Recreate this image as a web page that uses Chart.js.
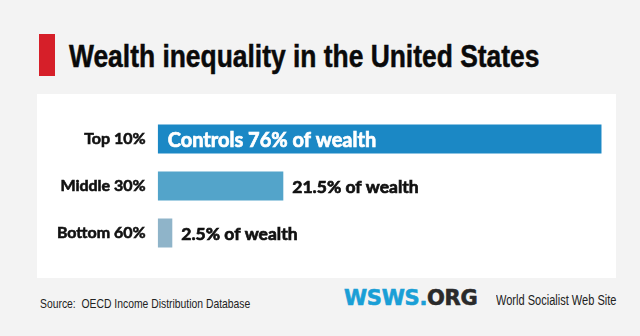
<!DOCTYPE html>
<html>
<head>
<meta charset="utf-8">
<script src="https://cdn.jsdelivr.net/npm/chart.js@4.4.1/dist/chart.umd.min.js"></script>
<style>
  html, body { margin: 0; padding: 0; }
  body { width: 640px; height: 336px; background: #f3f3f3; position: relative; overflow: hidden; }
  .mark { position: absolute; left: 39px; top: 34px; width: 16px; height: 42px; background: #d61f29; }
  .narrow { transform-origin: 0 0; white-space: nowrap; }
  .title { position: absolute; left: 69px; top: 40px; font: bold 32px/32px "Liberation Sans", sans-serif; color: #0a0a0a; transform: scaleX(0.825); -webkit-text-stroke: 0.5px #0a0a0a; }
  .panel { position: absolute; left: 37px; top: 94px; width: 579px; height: 184px; background: #fff; }
  .source { position: absolute; left: 40px; top: 296.5px; font: 12.8px/13px "Liberation Sans", sans-serif; color: #222; transform: scaleX(0.81); }
  .logo { position: absolute; left: 344px; top: 288px; font: bold 21px/21px "DejaVu Sans", sans-serif; color: #2a2a2a; white-space: nowrap; letter-spacing: -0.3px; -webkit-text-stroke: 0.6px #2a2a2a; }
  .logo span { color: #1a9fd6; -webkit-text-stroke: 0.6px #1a9fd6; }
  .site { position: absolute; left: 496px; top: 294px; font: 13.8px/14px "Liberation Sans", sans-serif; color: #222; transform: scaleX(0.8); }
</style>
</head>
<body>
<div class="mark"></div>
<div class="title narrow">Wealth inequality in the United States</div>
<div class="panel"><canvas id="chart" width="579" height="184"></canvas></div>
<div class="source narrow">Source:&nbsp; OECD Income Distribution Database</div>
<div class="logo"><span>WSWS.</span>ORG</div>
<div class="site narrow">World Socialist Web Site</div>

<script>
const groups      = ['Top 10%', 'Middle 30%', 'Bottom 60%'];
const wealthShare = [76, 21.5, 2.5];
const valueLabels = ['Controls 76% of wealth', '21.5% of wealth', '2.5% of wealth'];
const barColors   = ['#1b88c5', '#53a4ca', '#8fb4c9'];

const FONT = 'Lato, "Open Sans", sans-serif';

// writes the share next to (or inside) each bar
const valueLabelPlugin = {
  id: 'valueLabels',
  afterDatasetsDraw(chart) {
    const ctx  = chart.ctx;
    const meta = chart.getDatasetMeta(0);
    meta.data.forEach((bar, i) => {
      ctx.save();
      ctx.textBaseline = 'middle';
      ctx.textAlign = 'left';
      ctx.lineWidth = 0.7;
      ctx.font = 'bold 20px ' + FONT;
      const w = ctx.measureText(valueLabels[i]).width;
      let x;
      if (w + 20 < bar.x - bar.base) {
        ctx.fillStyle = ctx.strokeStyle = '#fff';
        x = bar.base + 10;
      } else {
        ctx.font = 'bold 17.5px ' + FONT;
        ctx.fillStyle = ctx.strokeStyle = '#111';
        x = bar.x + 9;
      }
      ctx.fillText(valueLabels[i], x, bar.y + 1);
      ctx.strokeText(valueLabels[i], x, bar.y + 1);
      ctx.restore();
    });
  }
};

new Chart(document.getElementById('chart'), {
  type: 'bar',
  data: {
    labels: groups,
    datasets: [{
      data: wealthShare,
      backgroundColor: barColors,
      borderWidth: 0,
      categoryPercentage: 1,
      barPercentage: 0.62,
    }]
  },
  options: {
    indexAxis: 'y',
    responsive: false,
    animation: false,
    events: [],
    layout: { padding: { left: 0, right: 14.3, top: 9.3, bottom: 14.3 } },
    plugins: { legend: { display: false }, tooltip: { enabled: false } },
    scales: {
      x: { display: false, min: 0, max: 76 },
      y: {
        afterFit: s => { s.width = 120.7; },
        grid: { display: false, drawTicks: false },
        border: { display: false },
        ticks: {
          padding: 12, color: '#111',
          textStrokeColor: '#111', textStrokeWidth: 0.6,
          font: { family: FONT, size: 16, weight: 'bold' }
        }
      }
    }
  },
  plugins: [valueLabelPlugin]
});
</script>
</body>
</html>
